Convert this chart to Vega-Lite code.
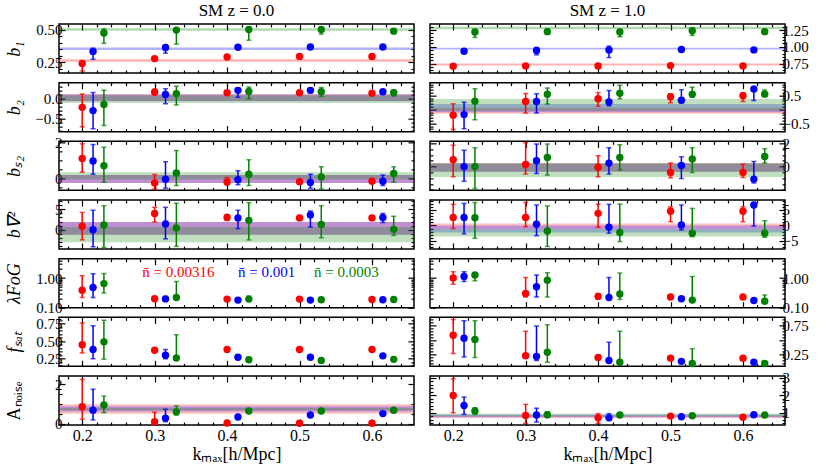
{
  "$schema": "https://vega.github.io/schema/vega-lite/v6.json",
  "padding": {"left": 4, "top": 1, "right": 4, "bottom": 2},
  "background": "white",
  "config": {
    "font": "Liberation Serif, Times New Roman, serif",
    "view": {"stroke": "black", "strokeWidth": 1.5},
    "axis": {
      "domain": false, "grid": false, "tickColor": "black", "tickSize": -6, "tickWidth": 1.2,
      "labelFont": "Liberation Serif, Times New Roman, serif", "titleFont": "Liberation Serif, Times New Roman, serif",
      "labelFontSize": 15, "labelColor": "black", "labelPadding": 3,
      "titleFontSize": 18, "titleFontWeight": "normal", "titleColor": "black", "titleFontStyle": "italic", "titlePadding": 2
    },
    "title": {"font": "Liberation Serif, Times New Roman, serif", "fontSize": 17, "fontWeight": "normal", "color": "black", "offset": 3},
    "text": {"font": "Liberation Serif, Times New Roman, serif"}
  },
  "datasets": {
    "bands": [
      {"p": "L1", "s": "0.00316", "lo": 0.253, "hi": 0.273},
      {"p": "L1", "s": "0.001", "lo": 0.344, "hi": 0.364},
      {"p": "L1", "s": "0.0003", "lo": 0.493, "hi": 0.513},
      {"p": "L2", "s": "0.00316", "lo": -0.06, "hi": 0.11},
      {"p": "L2", "s": "0.001", "lo": -0.07, "hi": 0.10},
      {"p": "L2", "s": "0.0003", "lo": -0.11, "hi": 0.08},
      {"p": "L3", "s": "0.00316", "lo": -0.25, "hi": 0.19},
      {"p": "L3", "s": "0.001", "lo": -0.25, "hi": 0.19},
      {"p": "L3", "s": "0.0003", "lo": -0.05, "hi": 0.35},
      {"p": "L4", "s": "0.00316", "lo": -1.25, "hi": 1.9},
      {"p": "L4", "s": "0.001", "lo": -1.25, "hi": 1.9},
      {"p": "L4", "s": "0.0003", "lo": -3.1, "hi": 0.65},
      {"p": "L7", "s": "0.00316", "lo": 0.5, "hi": 0.98},
      {"p": "L7", "s": "0.001", "lo": 0.62, "hi": 0.88},
      {"p": "L7", "s": "0.0003", "lo": 0.68, "hi": 0.8},
      {"p": "R1", "s": "0.00316", "lo": 0.722, "hi": 0.75},
      {"p": "R1", "s": "0.001", "lo": 0.959, "hi": 0.987},
      {"p": "R1", "s": "0.0003", "lo": 1.262, "hi": 1.298},
      {"p": "R2", "s": "0.00316", "lo": -0.15, "hi": 0.06},
      {"p": "R2", "s": "0.001", "lo": -0.1, "hi": 0.2},
      {"p": "R2", "s": "0.0003", "lo": -0.05, "hi": 0.38},
      {"p": "R3", "s": "0.00316", "lo": -0.45, "hi": 0.3},
      {"p": "R3", "s": "0.001", "lo": -0.45, "hi": 0.25},
      {"p": "R3", "s": "0.0003", "lo": -0.9, "hi": 0.3},
      {"p": "R4", "s": "0.00316", "lo": -1.2, "hi": 0.6},
      {"p": "R4", "s": "0.001", "lo": -2.3, "hi": 0.0},
      {"p": "R4", "s": "0.0003", "lo": -3.6, "hi": -1.2},
      {"p": "R7", "s": "0.00316", "lo": 0.7, "hi": 0.85},
      {"p": "R7", "s": "0.001", "lo": 0.75, "hi": 0.9},
      {"p": "R7", "s": "0.0003", "lo": 0.8, "hi": 0.95}
    ],
    "labels": [
      {"s": "0.00316", "k": 0.283, "v": 1.64, "t": "n̄ = 0.00316"},
      {"s": "0.001", "k": 0.415, "v": 1.64, "t": "n̄ = 0.001"},
      {"s": "0.0003", "k": 0.52, "v": 1.64, "t": "n̄ = 0.0003"}
    ],
    "pts": [
      {"p": "L1", "s": "0.00316", "k": 0.2, "v": 0.24, "lo": 0.182, "hi": 0.26},
      {"p": "L1", "s": "0.001", "k": 0.215, "v": 0.333, "lo": 0.273, "hi": 0.358},
      {"p": "L1", "s": "0.0003", "k": 0.23, "v": 0.475, "lo": 0.396, "hi": 0.508},
      {"p": "L1", "s": "0.00316", "k": 0.3, "v": 0.278, "lo": 0.27, "hi": 0.286},
      {"p": "L1", "s": "0.001", "k": 0.315, "v": 0.364, "lo": 0.32, "hi": 0.38},
      {"p": "L1", "s": "0.0003", "k": 0.33, "v": 0.498, "lo": 0.39, "hi": 0.515},
      {"p": "L1", "s": "0.00316", "k": 0.4, "v": 0.29, "lo": 0.283, "hi": 0.297},
      {"p": "L1", "s": "0.001", "k": 0.415, "v": 0.366, "lo": 0.355, "hi": 0.377},
      {"p": "L1", "s": "0.0003", "k": 0.43, "v": 0.502, "lo": 0.42, "hi": 0.52},
      {"p": "L1", "s": "0.00316", "k": 0.5, "v": 0.295, "lo": 0.289, "hi": 0.301},
      {"p": "L1", "s": "0.001", "k": 0.515, "v": 0.368, "lo": 0.359, "hi": 0.377},
      {"p": "L1", "s": "0.0003", "k": 0.53, "v": 0.502, "lo": 0.467, "hi": 0.515},
      {"p": "L1", "s": "0.00316", "k": 0.6, "v": 0.295, "lo": 0.289, "hi": 0.301},
      {"p": "L1", "s": "0.001", "k": 0.615, "v": 0.368, "lo": 0.359, "hi": 0.377},
      {"p": "L1", "s": "0.0003", "k": 0.63, "v": 0.49, "lo": 0.477, "hi": 0.502},

      {"p": "L2", "s": "0.00316", "k": 0.2, "v": -0.22, "lo": -0.7, "hi": 0.11},
      {"p": "L2", "s": "0.001", "k": 0.215, "v": -0.3, "lo": -0.75, "hi": 0.15},
      {"p": "L2", "s": "0.0003", "k": 0.23, "v": -0.15, "lo": -0.67, "hi": 0.2},
      {"p": "L2", "s": "0.00316", "k": 0.3, "v": 0.16, "lo": 0.09, "hi": 0.22},
      {"p": "L2", "s": "0.001", "k": 0.315, "v": 0.1, "lo": -0.13, "hi": 0.24},
      {"p": "L2", "s": "0.0003", "k": 0.33, "v": 0.12, "lo": -0.16, "hi": 0.3},
      {"p": "L2", "s": "0.00316", "k": 0.4, "v": 0.14, "lo": 0.11, "hi": 0.17},
      {"p": "L2", "s": "0.001", "k": 0.415, "v": 0.2, "lo": 0.03, "hi": 0.26},
      {"p": "L2", "s": "0.0003", "k": 0.43, "v": 0.17, "lo": -0.01, "hi": 0.28},
      {"p": "L2", "s": "0.00316", "k": 0.5, "v": 0.14, "lo": 0.11, "hi": 0.17},
      {"p": "L2", "s": "0.001", "k": 0.515, "v": 0.2, "lo": 0.14, "hi": 0.26},
      {"p": "L2", "s": "0.0003", "k": 0.53, "v": 0.165, "lo": 0.05, "hi": 0.27},
      {"p": "L2", "s": "0.00316", "k": 0.6, "v": 0.13, "lo": 0.1, "hi": 0.16},
      {"p": "L2", "s": "0.001", "k": 0.615, "v": 0.165, "lo": 0.12, "hi": 0.21},
      {"p": "L2", "s": "0.0003", "k": 0.63, "v": 0.14, "lo": 0.07, "hi": 0.21},

      {"p": "L3", "s": "0.00316", "k": 0.2, "v": 1.1, "lo": 0.35, "hi": 1.92},
      {"p": "L3", "s": "0.001", "k": 0.215, "v": 0.97, "lo": 0.24, "hi": 1.87},
      {"p": "L3", "s": "0.0003", "k": 0.23, "v": 0.71, "lo": -0.21, "hi": 1.72},
      {"p": "L3", "s": "0.00316", "k": 0.3, "v": -0.25, "lo": -0.58, "hi": 0.22},
      {"p": "L3", "s": "0.001", "k": 0.315, "v": -0.04, "lo": -0.54, "hi": 0.93},
      {"p": "L3", "s": "0.0003", "k": 0.33, "v": 0.31, "lo": -0.38, "hi": 1.55},
      {"p": "L3", "s": "0.00316", "k": 0.4, "v": -0.19, "lo": -0.34, "hi": 0.06},
      {"p": "L3", "s": "0.001", "k": 0.415, "v": -0.06, "lo": -0.34, "hi": 0.43},
      {"p": "L3", "s": "0.0003", "k": 0.43, "v": 0.24, "lo": -0.38, "hi": 1.03},
      {"p": "L3", "s": "0.00316", "k": 0.5, "v": -0.17, "lo": -0.29, "hi": -0.05},
      {"p": "L3", "s": "0.001", "k": 0.515, "v": -0.22, "lo": -0.53, "hi": 0.24},
      {"p": "L3", "s": "0.0003", "k": 0.53, "v": 0.09, "lo": -0.56, "hi": 0.65},
      {"p": "L3", "s": "0.00316", "k": 0.6, "v": -0.15, "lo": -0.23, "hi": -0.07},
      {"p": "L3", "s": "0.001", "k": 0.615, "v": -0.15, "lo": -0.39, "hi": 0.2},
      {"p": "L3", "s": "0.0003", "k": 0.63, "v": 0.28, "lo": -0.19, "hi": 0.65},

      {"p": "L4", "s": "0.00316", "k": 0.2, "v": 0.83, "lo": -2.5, "hi": 4.25},
      {"p": "L4", "s": "0.001", "k": 0.215, "v": 0.0, "lo": -4.2, "hi": 4.8},
      {"p": "L4", "s": "0.0003", "k": 0.23, "v": 1.15, "lo": -4.35, "hi": 5.9},
      {"p": "L4", "s": "0.00316", "k": 0.3, "v": 4.0, "lo": 1.9, "hi": 5.5},
      {"p": "L4", "s": "0.001", "k": 0.315, "v": 1.4, "lo": -2.25, "hi": 5.5},
      {"p": "L4", "s": "0.0003", "k": 0.33, "v": 0.4, "lo": -4.1, "hi": 6.5},
      {"p": "L4", "s": "0.00316", "k": 0.4, "v": 3.0, "lo": 2.3, "hi": 3.75},
      {"p": "L4", "s": "0.001", "k": 0.415, "v": 2.9, "lo": 0.25, "hi": 4.8},
      {"p": "L4", "s": "0.0003", "k": 0.43, "v": 2.3, "lo": -2.5, "hi": 6.65},
      {"p": "L4", "s": "0.00316", "k": 0.5, "v": 2.9, "lo": 2.3, "hi": 3.5},
      {"p": "L4", "s": "0.001", "k": 0.515, "v": 3.6, "lo": 0.65, "hi": 4.6},
      {"p": "L4", "s": "0.0003", "k": 0.53, "v": 1.3, "lo": -2.0, "hi": 5.9},
      {"p": "L4", "s": "0.00316", "k": 0.6, "v": 2.9, "lo": 2.4, "hi": 3.4},
      {"p": "L4", "s": "0.001", "k": 0.615, "v": 3.0, "lo": 1.75, "hi": 4.0},
      {"p": "L4", "s": "0.0003", "k": 0.63, "v": 0.08, "lo": -1.4, "hi": 3.3},

      {"p": "L5", "s": "0.00316", "k": 0.2, "v": 0.39, "lo": 0.22, "hi": 1.2},
      {"p": "L5", "s": "0.001", "k": 0.215, "v": 0.48, "lo": 0.22, "hi": 1.4},
      {"p": "L5", "s": "0.0003", "k": 0.23, "v": 0.65, "lo": 0.31, "hi": 1.43},
      {"p": "L5", "s": "0.00316", "k": 0.3, "v": 0.2, "lo": 0.18, "hi": 0.22},
      {"p": "L5", "s": "0.001", "k": 0.315, "v": 0.198, "lo": 0.165, "hi": 0.24},
      {"p": "L5", "s": "0.0003", "k": 0.33, "v": 0.22, "lo": 0.19, "hi": 0.77},
      {"p": "L5", "s": "0.00316", "k": 0.4, "v": 0.195, "lo": 0.18, "hi": 0.21},
      {"p": "L5", "s": "0.001", "k": 0.415, "v": 0.18, "lo": 0.17, "hi": 0.19},
      {"p": "L5", "s": "0.0003", "k": 0.43, "v": 0.195, "lo": 0.17, "hi": 0.25},
      {"p": "L5", "s": "0.00316", "k": 0.5, "v": 0.195, "lo": 0.185, "hi": 0.205},
      {"p": "L5", "s": "0.001", "k": 0.515, "v": 0.18, "lo": 0.17, "hi": 0.19},
      {"p": "L5", "s": "0.0003", "k": 0.53, "v": 0.185, "lo": 0.175, "hi": 0.195},
      {"p": "L5", "s": "0.00316", "k": 0.6, "v": 0.19, "lo": 0.18, "hi": 0.2},
      {"p": "L5", "s": "0.001", "k": 0.615, "v": 0.185, "lo": 0.175, "hi": 0.195},
      {"p": "L5", "s": "0.0003", "k": 0.63, "v": 0.19, "lo": 0.18, "hi": 0.2},

      {"p": "L6", "s": "0.00316", "k": 0.2, "v": 0.45, "lo": 0.33, "hi": 0.76},
      {"p": "L6", "s": "0.001", "k": 0.215, "v": 0.38, "lo": 0.25, "hi": 0.72},
      {"p": "L6", "s": "0.0003", "k": 0.23, "v": 0.49, "lo": 0.24, "hi": 0.8},
      {"p": "L6", "s": "0.00316", "k": 0.3, "v": 0.37, "lo": 0.36, "hi": 0.38},
      {"p": "L6", "s": "0.001", "k": 0.315, "v": 0.3, "lo": 0.25, "hi": 0.38},
      {"p": "L6", "s": "0.0003", "k": 0.33, "v": 0.26, "lo": 0.23, "hi": 0.59},
      {"p": "L6", "s": "0.00316", "k": 0.4, "v": 0.38, "lo": 0.37, "hi": 0.39},
      {"p": "L6", "s": "0.001", "k": 0.415, "v": 0.27, "lo": 0.26, "hi": 0.28},
      {"p": "L6", "s": "0.0003", "k": 0.43, "v": 0.235, "lo": 0.205, "hi": 0.265},
      {"p": "L6", "s": "0.00316", "k": 0.5, "v": 0.38, "lo": 0.37, "hi": 0.39},
      {"p": "L6", "s": "0.001", "k": 0.515, "v": 0.27, "lo": 0.26, "hi": 0.28},
      {"p": "L6", "s": "0.0003", "k": 0.53, "v": 0.225, "lo": 0.21, "hi": 0.24},
      {"p": "L6", "s": "0.00316", "k": 0.6, "v": 0.38, "lo": 0.37, "hi": 0.39},
      {"p": "L6", "s": "0.001", "k": 0.615, "v": 0.29, "lo": 0.28, "hi": 0.3},
      {"p": "L6", "s": "0.0003", "k": 0.63, "v": 0.24, "lo": 0.23, "hi": 0.25},

      {"p": "L7", "s": "0.00316", "k": 0.2, "v": 0.86, "lo": 0.22, "hi": 2.25},
      {"p": "L7", "s": "0.001", "k": 0.215, "v": 0.68, "lo": 0.19, "hi": 1.75},
      {"p": "L7", "s": "0.0003", "k": 0.23, "v": 0.95, "lo": 0.56, "hi": 1.4},
      {"p": "L7", "s": "0.00316", "k": 0.3, "v": 0.1, "lo": 0.0, "hi": 0.58},
      {"p": "L7", "s": "0.001", "k": 0.315, "v": 0.27, "lo": 0.1, "hi": 0.73},
      {"p": "L7", "s": "0.0003", "k": 0.33, "v": 0.6, "lo": 0.44, "hi": 0.9},
      {"p": "L7", "s": "0.00316", "k": 0.4, "v": 0.03, "lo": 0.0, "hi": 0.06},
      {"p": "L7", "s": "0.001", "k": 0.415, "v": 0.34, "lo": 0.3, "hi": 0.38},
      {"p": "L7", "s": "0.0003", "k": 0.43, "v": 0.64, "lo": 0.6, "hi": 0.68},
      {"p": "L7", "s": "0.00316", "k": 0.5, "v": 0.02, "lo": 0.0, "hi": 0.04},
      {"p": "L7", "s": "0.001", "k": 0.515, "v": 0.44, "lo": 0.4, "hi": 0.48},
      {"p": "L7", "s": "0.0003", "k": 0.53, "v": 0.64, "lo": 0.6, "hi": 0.68},
      {"p": "L7", "s": "0.00316", "k": 0.6, "v": 0.02, "lo": 0.0, "hi": 0.04},
      {"p": "L7", "s": "0.001", "k": 0.615, "v": 0.51, "lo": 0.47, "hi": 0.55},
      {"p": "L7", "s": "0.0003", "k": 0.63, "v": 0.68, "lo": 0.64, "hi": 0.72},

      {"p": "R1", "s": "0.00316", "k": 0.2, "v": 0.71, "lo": 0.69, "hi": 0.73},
      {"p": "R1", "s": "0.001", "k": 0.215, "v": 0.934, "lo": 0.905, "hi": 0.96},
      {"p": "R1", "s": "0.0003", "k": 0.23, "v": 1.22, "lo": 1.14, "hi": 1.26},
      {"p": "R1", "s": "0.00316", "k": 0.3, "v": 0.716, "lo": 0.69, "hi": 0.74},
      {"p": "R1", "s": "0.001", "k": 0.315, "v": 0.944, "lo": 0.88, "hi": 0.99},
      {"p": "R1", "s": "0.0003", "k": 0.33, "v": 1.226, "lo": 1.19, "hi": 1.27},
      {"p": "R1", "s": "0.00316", "k": 0.4, "v": 0.716, "lo": 0.69, "hi": 0.74},
      {"p": "R1", "s": "0.001", "k": 0.415, "v": 0.954, "lo": 0.84, "hi": 1.01},
      {"p": "R1", "s": "0.0003", "k": 0.43, "v": 1.22, "lo": 1.15, "hi": 1.26},
      {"p": "R1", "s": "0.00316", "k": 0.5, "v": 0.72, "lo": 0.7, "hi": 0.74},
      {"p": "R1", "s": "0.001", "k": 0.515, "v": 0.96, "lo": 0.94, "hi": 0.98},
      {"p": "R1", "s": "0.0003", "k": 0.53, "v": 1.24, "lo": 1.17, "hi": 1.28},
      {"p": "R1", "s": "0.00316", "k": 0.6, "v": 0.716, "lo": 0.7, "hi": 0.735},
      {"p": "R1", "s": "0.001", "k": 0.615, "v": 0.954, "lo": 0.935, "hi": 0.975},
      {"p": "R1", "s": "0.0003", "k": 0.63, "v": 1.226, "lo": 1.2, "hi": 1.255},

      {"p": "R2", "s": "0.00316", "k": 0.2, "v": -0.2, "lo": -0.71, "hi": 0.21},
      {"p": "R2", "s": "0.001", "k": 0.215, "v": -0.18, "lo": -0.69, "hi": 0.26},
      {"p": "R2", "s": "0.0003", "k": 0.23, "v": 0.3, "lo": -0.36, "hi": 0.74},
      {"p": "R2", "s": "0.00316", "k": 0.3, "v": 0.29, "lo": -0.12, "hi": 0.57},
      {"p": "R2", "s": "0.001", "k": 0.315, "v": 0.29, "lo": -0.12, "hi": 0.56},
      {"p": "R2", "s": "0.0003", "k": 0.33, "v": 0.55, "lo": 0.2, "hi": 0.77},
      {"p": "R2", "s": "0.00316", "k": 0.4, "v": 0.39, "lo": 0.12, "hi": 0.61},
      {"p": "R2", "s": "0.001", "k": 0.415, "v": 0.27, "lo": 0.14, "hi": 0.68},
      {"p": "R2", "s": "0.0003", "k": 0.43, "v": 0.58, "lo": 0.39, "hi": 0.87},
      {"p": "R2", "s": "0.00316", "k": 0.5, "v": 0.46, "lo": 0.24, "hi": 0.56},
      {"p": "R2", "s": "0.001", "k": 0.515, "v": 0.33, "lo": 0.24, "hi": 0.71},
      {"p": "R2", "s": "0.0003", "k": 0.53, "v": 0.55, "lo": 0.44, "hi": 0.8},
      {"p": "R2", "s": "0.00316", "k": 0.6, "v": 0.49, "lo": 0.29, "hi": 0.6},
      {"p": "R2", "s": "0.001", "k": 0.615, "v": 0.73, "lo": 0.32, "hi": 0.82},
      {"p": "R2", "s": "0.0003", "k": 0.63, "v": 0.55, "lo": 0.5, "hi": 0.7},

      {"p": "R3", "s": "0.00316", "k": 0.2, "v": 0.59, "lo": -0.88, "hi": 1.85},
      {"p": "R3", "s": "0.001", "k": 0.215, "v": 0.0, "lo": -1.26, "hi": 1.41},
      {"p": "R3", "s": "0.0003", "k": 0.23, "v": 0.0, "lo": -1.9, "hi": 1.62},
      {"p": "R3", "s": "0.00316", "k": 0.3, "v": 0.18, "lo": -0.64, "hi": 2.06},
      {"p": "R3", "s": "0.001", "k": 0.315, "v": 0.5, "lo": -0.59, "hi": 1.94},
      {"p": "R3", "s": "0.0003", "k": 0.33, "v": 0.79, "lo": -0.73, "hi": 1.94},
      {"p": "R3", "s": "0.00316", "k": 0.4, "v": -0.06, "lo": -0.88, "hi": 0.94},
      {"p": "R3", "s": "0.001", "k": 0.415, "v": 0.3, "lo": -0.64, "hi": 1.62},
      {"p": "R3", "s": "0.0003", "k": 0.43, "v": 0.79, "lo": -0.29, "hi": 1.88},
      {"p": "R3", "s": "0.00316", "k": 0.5, "v": -0.5, "lo": -0.97, "hi": 0.3},
      {"p": "R3", "s": "0.001", "k": 0.515, "v": 0.09, "lo": -1.03, "hi": 0.85},
      {"p": "R3", "s": "0.0003", "k": 0.53, "v": 0.65, "lo": -0.5, "hi": 1.62},
      {"p": "R3", "s": "0.00316", "k": 0.6, "v": -0.5, "lo": -0.94, "hi": 0.21},
      {"p": "R3", "s": "0.001", "k": 0.615, "v": -1.08, "lo": -1.41, "hi": 0.44},
      {"p": "R3", "s": "0.0003", "k": 0.63, "v": 0.88, "lo": 0.3, "hi": 1.53},

      {"p": "R4", "s": "0.00316", "k": 0.2, "v": 2.6, "lo": -1.0, "hi": 6.8},
      {"p": "R4", "s": "0.001", "k": 0.215, "v": 2.6, "lo": -2.7, "hi": 7.1},
      {"p": "R4", "s": "0.0003", "k": 0.23, "v": 2.5, "lo": -4.1, "hi": 7.4},
      {"p": "R4", "s": "0.00316", "k": 0.3, "v": 2.6, "lo": -0.4, "hi": 7.4},
      {"p": "R4", "s": "0.001", "k": 0.315, "v": 0.4, "lo": -3.3, "hi": 6.6},
      {"p": "R4", "s": "0.0003", "k": 0.33, "v": -1.8, "lo": -6.8, "hi": 6.3},
      {"p": "R4", "s": "0.00316", "k": 0.4, "v": 3.9, "lo": -0.6, "hi": 6.9},
      {"p": "R4", "s": "0.001", "k": 0.415, "v": -0.6, "lo": -2.5, "hi": 6.8},
      {"p": "R4", "s": "0.0003", "k": 0.43, "v": -2.3, "lo": -5.2, "hi": 6.9},
      {"p": "R4", "s": "0.00316", "k": 0.5, "v": 4.6, "lo": 1.2, "hi": 6.0},
      {"p": "R4", "s": "0.001", "k": 0.515, "v": 0.16, "lo": -1.45, "hi": 6.6},
      {"p": "R4", "s": "0.0003", "k": 0.53, "v": -2.5, "lo": -3.6, "hi": 5.5},
      {"p": "R4", "s": "0.00316", "k": 0.6, "v": 4.6, "lo": 1.2, "hi": 6.0},
      {"p": "R4", "s": "0.001", "k": 0.615, "v": 6.6, "lo": -0.16, "hi": 7.4},
      {"p": "R4", "s": "0.0003", "k": 0.63, "v": -2.5, "lo": -3.8, "hi": 1.5},

      {"p": "R5", "s": "0.00316", "k": 0.2, "v": 1.0, "lo": 0.62, "hi": 1.64},
      {"p": "R5", "s": "0.001", "k": 0.215, "v": 1.13, "lo": 0.77, "hi": 1.64},
      {"p": "R5", "s": "0.0003", "k": 0.23, "v": 1.26, "lo": 0.81, "hi": 1.5},
      {"p": "R5", "s": "0.00316", "k": 0.3, "v": 0.3, "lo": 0.23, "hi": 1.05},
      {"p": "R5", "s": "0.001", "k": 0.315, "v": 0.51, "lo": 0.23, "hi": 1.26},
      {"p": "R5", "s": "0.0003", "k": 0.33, "v": 0.85, "lo": 0.23, "hi": 1.5},
      {"p": "R5", "s": "0.00316", "k": 0.4, "v": 0.24, "lo": 0.2, "hi": 0.3},
      {"p": "R5", "s": "0.001", "k": 0.415, "v": 0.22, "lo": 0.19, "hi": 1.05},
      {"p": "R5", "s": "0.0003", "k": 0.43, "v": 0.29, "lo": 0.19, "hi": 1.48},
      {"p": "R5", "s": "0.00316", "k": 0.5, "v": 0.23, "lo": 0.21, "hi": 0.25},
      {"p": "R5", "s": "0.001", "k": 0.515, "v": 0.2, "lo": 0.185, "hi": 0.215},
      {"p": "R5", "s": "0.0003", "k": 0.53, "v": 0.18, "lo": 0.16, "hi": 1.13},
      {"p": "R5", "s": "0.00316", "k": 0.6, "v": 0.23, "lo": 0.21, "hi": 0.25},
      {"p": "R5", "s": "0.001", "k": 0.615, "v": 0.175, "lo": 0.16, "hi": 0.19},
      {"p": "R5", "s": "0.0003", "k": 0.63, "v": 0.165, "lo": 0.145, "hi": 0.27},

      {"p": "R6", "s": "0.00316", "k": 0.2, "v": 0.58, "lo": 0.27, "hi": 0.85},
      {"p": "R6", "s": "0.001", "k": 0.215, "v": 0.53, "lo": 0.21, "hi": 0.83},
      {"p": "R6", "s": "0.0003", "k": 0.23, "v": 0.51, "lo": 0.2, "hi": 0.83},
      {"p": "R6", "s": "0.00316", "k": 0.3, "v": 0.23, "lo": 0.2, "hi": 0.65},
      {"p": "R6", "s": "0.001", "k": 0.315, "v": 0.22, "lo": 0.15, "hi": 0.74},
      {"p": "R6", "s": "0.0003", "k": 0.33, "v": 0.29, "lo": 0.12, "hi": 0.76},
      {"p": "R6", "s": "0.00316", "k": 0.4, "v": 0.2, "lo": 0.18, "hi": 0.22},
      {"p": "R6", "s": "0.001", "k": 0.415, "v": 0.15, "lo": 0.13, "hi": 0.46},
      {"p": "R6", "s": "0.0003", "k": 0.43, "v": 0.12, "lo": 0.1, "hi": 0.65},
      {"p": "R6", "s": "0.00316", "k": 0.5, "v": 0.19, "lo": 0.17, "hi": 0.21},
      {"p": "R6", "s": "0.001", "k": 0.515, "v": 0.135, "lo": 0.12, "hi": 0.15},
      {"p": "R6", "s": "0.0003", "k": 0.53, "v": 0.1, "lo": 0.09, "hi": 0.35},
      {"p": "R6", "s": "0.00316", "k": 0.6, "v": 0.19, "lo": 0.17, "hi": 0.21},
      {"p": "R6", "s": "0.001", "k": 0.615, "v": 0.12, "lo": 0.11, "hi": 0.13},
      {"p": "R6", "s": "0.0003", "k": 0.63, "v": 0.1, "lo": 0.09, "hi": 0.11},

      {"p": "R7", "s": "0.00316", "k": 0.2, "v": 1.99, "lo": 1.0, "hi": 2.94},
      {"p": "R7", "s": "0.001", "k": 0.215, "v": 1.42, "lo": 0.91, "hi": 1.9},
      {"p": "R7", "s": "0.0003", "k": 0.23, "v": 1.1, "lo": 0.91, "hi": 1.29},
      {"p": "R7", "s": "0.00316", "k": 0.3, "v": 0.85, "lo": 0.4, "hi": 1.48},
      {"p": "R7", "s": "0.001", "k": 0.315, "v": 0.87, "lo": 0.47, "hi": 1.26},
      {"p": "R7", "s": "0.0003", "k": 0.33, "v": 0.89, "lo": 0.73, "hi": 1.05},
      {"p": "R7", "s": "0.00316", "k": 0.4, "v": 0.71, "lo": 0.4, "hi": 0.95},
      {"p": "R7", "s": "0.001", "k": 0.415, "v": 0.71, "lo": 0.59, "hi": 0.95},
      {"p": "R7", "s": "0.0003", "k": 0.43, "v": 0.87, "lo": 0.77, "hi": 0.97},
      {"p": "R7", "s": "0.00316", "k": 0.5, "v": 0.81, "lo": 0.75, "hi": 0.87},
      {"p": "R7", "s": "0.001", "k": 0.515, "v": 0.77, "lo": 0.7, "hi": 0.84},
      {"p": "R7", "s": "0.0003", "k": 0.53, "v": 0.83, "lo": 0.76, "hi": 0.9},
      {"p": "R7", "s": "0.00316", "k": 0.6, "v": 0.75, "lo": 0.69, "hi": 0.81},
      {"p": "R7", "s": "0.001", "k": 0.615, "v": 0.89, "lo": 0.83, "hi": 0.95},
      {"p": "R7", "s": "0.0003", "k": 0.63, "v": 0.87, "lo": 0.8, "hi": 0.94}
    ]
  },
  "spacing": 12,
  "hconcat": [
    {
      "bounds": "flush",
      "spacing": 9.67,
      "vconcat": [
        {"width": 355, "height": 49, "title": "SM z = 0.0", "resolve": {"axis": {"x": "independent", "y": "independent"}}, "layer": [
          {"data": {"name": "bands"}, "transform": [{"filter": "datum.p == 'L1'"}], "mark": {"type": "rect", "opacity": 0.3}, "encoding": {"y": {"field": "lo", "type": "quantitative", "axis": null}, "y2": {"field": "hi"}, "color": {"field": "s", "type": "nominal", "scale": {"domain": ["0.00316", "0.001", "0.0003"], "range": ["#ff0000", "#0000ff", "#008000"]}, "legend": null}}},
          {"data": {"name": "pts"}, "transform": [{"filter": "datum.p == 'L1'"}], "mark": {"type": "point", "opacity": 0}, "encoding": {"x": {"field": "k", "type": "quantitative", "axis": {"values": [0.18,0.22,0.24,0.26,0.28,0.32,0.34,0.36,0.38,0.42,0.44,0.46,0.48,0.52,0.54,0.56,0.58,0.62,0.64], "labels": false, "title": null, "tickSize": -3, "maxExtent": 0}}, "y": {"field": "v", "type": "quantitative", "axis": {"values": [0.2,0.3,0.35,0.4,0.45], "labels": false, "title": null, "tickSize": -3, "maxExtent": 0}}}},
          {"data": {"name": "pts"}, "transform": [{"filter": "datum.p == 'L1'"}], "mark": {"type": "point", "opacity": 0}, "encoding": {"x": {"field": "k", "type": "quantitative", "axis": {"orient": "top", "values": [0.18,0.22,0.24,0.26,0.28,0.32,0.34,0.36,0.38,0.42,0.44,0.46,0.48,0.52,0.54,0.56,0.58,0.62,0.64], "labels": false, "title": null, "tickSize": -3, "maxExtent": 0}}, "y": {"field": "v", "type": "quantitative", "axis": {"orient": "right", "values": [0.2,0.3,0.35,0.4,0.45], "labels": false, "title": null, "tickSize": -3, "maxExtent": 0}}}},
          {"data": {"name": "pts"}, "transform": [{"filter": "datum.p == 'L1'"}], "mark": {"type": "errorbar", "ticks": true, "thickness": 1.5, "clip": true}, "encoding": {"x": {"field": "k", "type": "quantitative", "axis": {"orient": "top", "values": [0.2, 0.3, 0.4, 0.5, 0.6], "labels": false, "title": null, "maxExtent": 0}}, "y": {"field": "lo", "type": "quantitative", "axis": {"orient": "right", "values": [0.25, 0.5], "labels": false, "title": null, "maxExtent": 0}}, "y2": {"field": "hi"}, "color": {"field": "s", "type": "nominal", "legend": null}}},
          {"data": {"name": "pts"}, "transform": [{"filter": "datum.p == 'L1'"}], "mark": {"type": "point", "filled": true, "size": 55, "opacity": 1}, "encoding": {"x": {"field": "k", "type": "quantitative", "scale": {"domain": [0.168, 0.658], "nice": false, "zero": false}, "axis": {"values": [0.2, 0.3, 0.4, 0.5, 0.6], "labels": false, "title": null, "maxExtent": 0}}, "y": {"field": "v", "type": "quantitative", "scale": {"domain": [0.167, 0.545], "nice": false, "zero": false}, "axis": {"values": [0.25, 0.5], "format": ".2f", "title": "b₁", "minExtent": 34, "maxExtent": 34}}, "color": {"field": "s", "type": "nominal", "legend": null}}}
        ]},
        {"width": 355, "height": 49, "resolve": {"axis": {"x": "independent", "y": "independent"}}, "layer": [
          {"data": {"name": "bands"}, "transform": [{"filter": "datum.p == 'L2'"}], "mark": {"type": "rect", "opacity": 0.25}, "encoding": {"y": {"field": "lo", "type": "quantitative", "axis": null}, "y2": {"field": "hi"}, "color": {"field": "s", "type": "nominal", "scale": {"domain": ["0.00316", "0.001", "0.0003"], "range": ["#ff0000", "#0000ff", "#008000"]}, "legend": null}}},
          {"data": {"name": "pts"}, "transform": [{"filter": "datum.p == 'L2'"}], "mark": {"type": "point", "opacity": 0}, "encoding": {"x": {"field": "k", "type": "quantitative", "axis": {"values": [0.18,0.22,0.24,0.26,0.28,0.32,0.34,0.36,0.38,0.42,0.44,0.46,0.48,0.52,0.54,0.56,0.58,0.62,0.64], "labels": false, "title": null, "tickSize": -3, "maxExtent": 0}}, "y": {"field": "v", "type": "quantitative", "axis": {"values": [-0.8,-0.7,-0.6,-0.4,-0.3,-0.2,-0.1,0.1,0.2,0.3], "labels": false, "title": null, "tickSize": -3, "maxExtent": 0}}}},
          {"data": {"name": "pts"}, "transform": [{"filter": "datum.p == 'L2'"}], "mark": {"type": "point", "opacity": 0}, "encoding": {"x": {"field": "k", "type": "quantitative", "axis": {"orient": "top", "values": [0.18,0.22,0.24,0.26,0.28,0.32,0.34,0.36,0.38,0.42,0.44,0.46,0.48,0.52,0.54,0.56,0.58,0.62,0.64], "labels": false, "title": null, "tickSize": -3, "maxExtent": 0}}, "y": {"field": "v", "type": "quantitative", "axis": {"orient": "right", "values": [-0.8,-0.7,-0.6,-0.4,-0.3,-0.2,-0.1,0.1,0.2,0.3], "labels": false, "title": null, "tickSize": -3, "maxExtent": 0}}}},
          {"data": {"name": "pts"}, "transform": [{"filter": "datum.p == 'L2'"}], "mark": {"type": "errorbar", "ticks": true, "thickness": 1.5, "clip": true}, "encoding": {"x": {"field": "k", "type": "quantitative", "axis": {"orient": "top", "values": [0.2, 0.3, 0.4, 0.5, 0.6], "labels": false, "title": null, "maxExtent": 0}}, "y": {"field": "lo", "type": "quantitative", "axis": {"orient": "right", "values": [-0.5, 0], "labels": false, "title": null, "maxExtent": 0}}, "y2": {"field": "hi"}, "color": {"field": "s", "type": "nominal", "legend": null}}},
          {"data": {"name": "pts"}, "transform": [{"filter": "datum.p == 'L2'"}], "mark": {"type": "point", "filled": true, "size": 55, "opacity": 1}, "encoding": {"x": {"field": "k", "type": "quantitative", "scale": {"domain": [0.168, 0.658], "nice": false, "zero": false}, "axis": {"values": [0.2, 0.3, 0.4, 0.5, 0.6], "labels": false, "title": null, "maxExtent": 0}}, "y": {"field": "v", "type": "quantitative", "scale": {"domain": [-0.82, 0.39], "nice": false, "zero": false}, "axis": {"values": [-0.5, 0], "format": ".1f", "title": "b₂", "minExtent": 34, "maxExtent": 34}}, "color": {"field": "s", "type": "nominal", "legend": null}}}
        ]},
        {"width": 355, "height": 49, "resolve": {"axis": {"x": "independent", "y": "independent"}}, "layer": [
          {"data": {"name": "bands"}, "transform": [{"filter": "datum.p == 'L3'"}], "mark": {"type": "rect", "opacity": 0.25}, "encoding": {"y": {"field": "lo", "type": "quantitative", "axis": null}, "y2": {"field": "hi"}, "color": {"field": "s", "type": "nominal", "scale": {"domain": ["0.00316", "0.001", "0.0003"], "range": ["#ff0000", "#0000ff", "#008000"]}, "legend": null}}},
          {"data": {"name": "pts"}, "transform": [{"filter": "datum.p == 'L3'"}], "mark": {"type": "point", "opacity": 0}, "encoding": {"x": {"field": "k", "type": "quantitative", "axis": {"values": [0.18,0.22,0.24,0.26,0.28,0.32,0.34,0.36,0.38,0.42,0.44,0.46,0.48,0.52,0.54,0.56,0.58,0.62,0.64], "labels": false, "title": null, "tickSize": -3, "maxExtent": 0}}, "y": {"field": "v", "type": "quantitative", "axis": {"values": [-0.5,0.5,1,1.5], "labels": false, "title": null, "tickSize": -3, "maxExtent": 0}}}},
          {"data": {"name": "pts"}, "transform": [{"filter": "datum.p == 'L3'"}], "mark": {"type": "point", "opacity": 0}, "encoding": {"x": {"field": "k", "type": "quantitative", "axis": {"orient": "top", "values": [0.18,0.22,0.24,0.26,0.28,0.32,0.34,0.36,0.38,0.42,0.44,0.46,0.48,0.52,0.54,0.56,0.58,0.62,0.64], "labels": false, "title": null, "tickSize": -3, "maxExtent": 0}}, "y": {"field": "v", "type": "quantitative", "axis": {"orient": "right", "values": [-0.5,0.5,1,1.5], "labels": false, "title": null, "tickSize": -3, "maxExtent": 0}}}},
          {"data": {"name": "pts"}, "transform": [{"filter": "datum.p == 'L3'"}], "mark": {"type": "errorbar", "ticks": true, "thickness": 1.5, "clip": true}, "encoding": {"x": {"field": "k", "type": "quantitative", "axis": {"orient": "top", "values": [0.2, 0.3, 0.4, 0.5, 0.6], "labels": false, "title": null, "maxExtent": 0}}, "y": {"field": "lo", "type": "quantitative", "axis": {"orient": "right", "values": [0, 2], "labels": false, "title": null, "maxExtent": 0}}, "y2": {"field": "hi"}, "color": {"field": "s", "type": "nominal", "legend": null}}},
          {"data": {"name": "pts"}, "transform": [{"filter": "datum.p == 'L3'"}], "mark": {"type": "point", "filled": true, "size": 55, "opacity": 1}, "encoding": {"x": {"field": "k", "type": "quantitative", "scale": {"domain": [0.168, 0.658], "nice": false, "zero": false}, "axis": {"values": [0.2, 0.3, 0.4, 0.5, 0.6], "labels": false, "title": null, "maxExtent": 0}}, "y": {"field": "v", "type": "quantitative", "scale": {"domain": [-0.65, 2.05], "nice": false, "zero": false}, "axis": {"values": [0, 2], "format": "d", "title": "bₛ₂", "minExtent": 34, "maxExtent": 34}}, "color": {"field": "s", "type": "nominal", "legend": null}}}
        ]},
        {"width": 355, "height": 49, "resolve": {"axis": {"x": "independent", "y": "independent"}}, "layer": [
          {"data": {"name": "bands"}, "transform": [{"filter": "datum.p == 'L4'"}], "mark": {"type": "rect", "opacity": 0.25}, "encoding": {"y": {"field": "lo", "type": "quantitative", "axis": null}, "y2": {"field": "hi"}, "color": {"field": "s", "type": "nominal", "scale": {"domain": ["0.00316", "0.001", "0.0003"], "range": ["#ff0000", "#0000ff", "#008000"]}, "legend": null}}},
          {"data": {"name": "pts"}, "transform": [{"filter": "datum.p == 'L4'"}], "mark": {"type": "point", "opacity": 0}, "encoding": {"x": {"field": "k", "type": "quantitative", "axis": {"values": [0.18,0.22,0.24,0.26,0.28,0.32,0.34,0.36,0.38,0.42,0.44,0.46,0.48,0.52,0.54,0.56,0.58,0.62,0.64], "labels": false, "title": null, "tickSize": -3, "maxExtent": 0}}, "y": {"field": "v", "type": "quantitative", "axis": {"values": [-4,-3,-2,-1,1,2,3,4,6,7], "labels": false, "title": null, "tickSize": -3, "maxExtent": 0}}}},
          {"data": {"name": "pts"}, "transform": [{"filter": "datum.p == 'L4'"}], "mark": {"type": "point", "opacity": 0}, "encoding": {"x": {"field": "k", "type": "quantitative", "axis": {"orient": "top", "values": [0.18,0.22,0.24,0.26,0.28,0.32,0.34,0.36,0.38,0.42,0.44,0.46,0.48,0.52,0.54,0.56,0.58,0.62,0.64], "labels": false, "title": null, "tickSize": -3, "maxExtent": 0}}, "y": {"field": "v", "type": "quantitative", "axis": {"orient": "right", "values": [-4,-3,-2,-1,1,2,3,4,6,7], "labels": false, "title": null, "tickSize": -3, "maxExtent": 0}}}},
          {"data": {"name": "pts"}, "transform": [{"filter": "datum.p == 'L4'"}], "mark": {"type": "errorbar", "ticks": true, "thickness": 1.5, "clip": true}, "encoding": {"x": {"field": "k", "type": "quantitative", "axis": {"orient": "top", "values": [0.2, 0.3, 0.4, 0.5, 0.6], "labels": false, "title": null, "maxExtent": 0}}, "y": {"field": "lo", "type": "quantitative", "axis": {"orient": "right", "values": [0, 5], "labels": false, "title": null, "maxExtent": 0}}, "y2": {"field": "hi"}, "color": {"field": "s", "type": "nominal", "legend": null}}},
          {"data": {"name": "pts"}, "transform": [{"filter": "datum.p == 'L4'"}], "mark": {"type": "point", "filled": true, "size": 55, "opacity": 1}, "encoding": {"x": {"field": "k", "type": "quantitative", "scale": {"domain": [0.168, 0.658], "nice": false, "zero": false}, "axis": {"values": [0.2, 0.3, 0.4, 0.5, 0.6], "labels": false, "title": null, "maxExtent": 0}}, "y": {"field": "v", "type": "quantitative", "scale": {"domain": [-4.75, 7.3], "nice": false, "zero": false}, "axis": {"values": [0, 5], "format": "d", "title": "b∇²", "minExtent": 34, "maxExtent": 34}}, "color": {"field": "s", "type": "nominal", "legend": null}}}
        ]},
        {"width": 355, "height": 49, "resolve": {"axis": {"x": "independent", "y": "independent"}}, "layer": [
          {"data": {"name": "pts"}, "transform": [{"filter": "datum.p == 'L5'"}], "mark": {"type": "point", "opacity": 0}, "encoding": {"x": {"field": "k", "type": "quantitative", "axis": {"values": [0.18,0.22,0.24,0.26,0.28,0.32,0.34,0.36,0.38,0.42,0.44,0.46,0.48,0.52,0.54,0.56,0.58,0.62,0.64], "labels": false, "title": null, "tickSize": -3, "maxExtent": 0}}, "y": {"field": "v", "type": "quantitative", "axis": {"values": [0.2,0.3,0.4,0.5,0.6,0.7,0.8,0.9,2,3,4], "labels": false, "title": null, "tickSize": -3, "maxExtent": 0}}, "color": {"field": "s", "type": "nominal", "scale": {"domain": ["0.00316", "0.001", "0.0003"], "range": ["#ff0000", "#0000ff", "#008000"]}, "legend": null}}},
          {"data": {"name": "pts"}, "transform": [{"filter": "datum.p == 'L5'"}], "mark": {"type": "point", "opacity": 0}, "encoding": {"x": {"field": "k", "type": "quantitative", "axis": {"orient": "top", "values": [0.18,0.22,0.24,0.26,0.28,0.32,0.34,0.36,0.38,0.42,0.44,0.46,0.48,0.52,0.54,0.56,0.58,0.62,0.64], "labels": false, "title": null, "tickSize": -3, "maxExtent": 0}}, "y": {"field": "v", "type": "quantitative", "axis": {"orient": "right", "values": [0.2,0.3,0.4,0.5,0.6,0.7,0.8,0.9,2,3,4], "labels": false, "title": null, "tickSize": -3, "maxExtent": 0}}}},
          {"data": {"name": "pts"}, "transform": [{"filter": "datum.p == 'L5'"}], "mark": {"type": "errorbar", "ticks": true, "thickness": 1.5, "clip": true}, "encoding": {"x": {"field": "k", "type": "quantitative", "axis": {"orient": "top", "values": [0.2, 0.3, 0.4, 0.5, 0.6], "labels": false, "title": null, "maxExtent": 0}}, "y": {"field": "lo", "type": "quantitative", "axis": {"orient": "right", "values": [0.1, 1], "labels": false, "title": null, "maxExtent": 0}}, "y2": {"field": "hi"}, "color": {"field": "s", "type": "nominal", "legend": null}}},
          {"data": {"name": "pts"}, "transform": [{"filter": "datum.p == 'L5'"}], "mark": {"type": "point", "filled": true, "size": 55, "opacity": 1}, "encoding": {"x": {"field": "k", "type": "quantitative", "scale": {"domain": [0.168, 0.658], "nice": false, "zero": false}, "axis": {"values": [0.2, 0.3, 0.4, 0.5, 0.6], "labels": false, "title": null, "maxExtent": 0}}, "y": {"field": "v", "type": "quantitative", "scale": {"type": "log", "domain": [0.1, 4.5], "nice": false}, "axis": {"values": [0.1, 1], "format": ".2f", "title": "λFoG", "minExtent": 34, "maxExtent": 34}}, "color": {"field": "s", "type": "nominal", "legend": null}}},
          {"data": {"name": "labels"}, "mark": {"type": "text", "align": "left", "baseline": "middle", "fontSize": 15}, "encoding": {"x": {"field": "k", "type": "quantitative", "axis": null}, "y": {"field": "v", "type": "quantitative", "axis": null}, "text": {"field": "t"}, "color": {"field": "s", "type": "nominal", "legend": null}}}
        ]},
        {"width": 355, "height": 49, "resolve": {"axis": {"x": "independent", "y": "independent"}}, "layer": [
          {"data": {"name": "pts"}, "transform": [{"filter": "datum.p == 'L6'"}], "mark": {"type": "point", "opacity": 0}, "encoding": {"x": {"field": "k", "type": "quantitative", "axis": {"values": [0.18,0.22,0.24,0.26,0.28,0.32,0.34,0.36,0.38,0.42,0.44,0.46,0.48,0.52,0.54,0.56,0.58,0.62,0.64], "labels": false, "title": null, "tickSize": -3, "maxExtent": 0}}, "y": {"field": "v", "type": "quantitative", "axis": {"values": [0.15,0.2,0.3,0.35,0.4,0.45,0.55,0.6,0.65,0.7,0.8], "labels": false, "title": null, "tickSize": -3, "maxExtent": 0}}, "color": {"field": "s", "type": "nominal", "scale": {"domain": ["0.00316", "0.001", "0.0003"], "range": ["#ff0000", "#0000ff", "#008000"]}, "legend": null}}},
          {"data": {"name": "pts"}, "transform": [{"filter": "datum.p == 'L6'"}], "mark": {"type": "point", "opacity": 0}, "encoding": {"x": {"field": "k", "type": "quantitative", "axis": {"orient": "top", "values": [0.18,0.22,0.24,0.26,0.28,0.32,0.34,0.36,0.38,0.42,0.44,0.46,0.48,0.52,0.54,0.56,0.58,0.62,0.64], "labels": false, "title": null, "tickSize": -3, "maxExtent": 0}}, "y": {"field": "v", "type": "quantitative", "axis": {"orient": "right", "values": [0.15,0.2,0.3,0.35,0.4,0.45,0.55,0.6,0.65,0.7,0.8], "labels": false, "title": null, "tickSize": -3, "maxExtent": 0}}}},
          {"data": {"name": "pts"}, "transform": [{"filter": "datum.p == 'L6'"}], "mark": {"type": "errorbar", "ticks": true, "thickness": 1.5, "clip": true}, "encoding": {"x": {"field": "k", "type": "quantitative", "axis": {"orient": "top", "values": [0.2, 0.3, 0.4, 0.5, 0.6], "labels": false, "title": null, "maxExtent": 0}}, "y": {"field": "lo", "type": "quantitative", "axis": {"orient": "right", "values": [0.25, 0.5, 0.75], "labels": false, "title": null, "maxExtent": 0}}, "y2": {"field": "hi"}, "color": {"field": "s", "type": "nominal", "legend": null}}},
          {"data": {"name": "pts"}, "transform": [{"filter": "datum.p == 'L6'"}], "mark": {"type": "point", "filled": true, "size": 55, "opacity": 1}, "encoding": {"x": {"field": "k", "type": "quantitative", "scale": {"domain": [0.168, 0.658], "nice": false, "zero": false}, "axis": {"values": [0.2, 0.3, 0.4, 0.5, 0.6], "labels": false, "title": null, "maxExtent": 0}}, "y": {"field": "v", "type": "quantitative", "scale": {"domain": [0.14, 0.84], "nice": false, "zero": false}, "axis": {"values": [0.25, 0.5, 0.75], "format": ".2f", "title": "fₛₐₜ", "minExtent": 34, "maxExtent": 34}}, "color": {"field": "s", "type": "nominal", "legend": null}}}
        ]},
        {"width": 355, "height": 49, "resolve": {"axis": {"x": "independent", "y": "independent"}}, "layer": [
          {"data": {"name": "bands"}, "transform": [{"filter": "datum.p == 'L7'"}], "mark": {"type": "rect", "opacity": 0.25}, "encoding": {"y": {"field": "lo", "type": "quantitative", "axis": null}, "y2": {"field": "hi"}, "color": {"field": "s", "type": "nominal", "scale": {"domain": ["0.00316", "0.001", "0.0003"], "range": ["#ff0000", "#0000ff", "#008000"]}, "legend": null}}},
          {"data": {"name": "pts"}, "transform": [{"filter": "datum.p == 'L7'"}], "mark": {"type": "point", "opacity": 0}, "encoding": {"x": {"field": "k", "type": "quantitative", "axis": {"values": [0.18,0.22,0.24,0.26,0.28,0.32,0.34,0.36,0.38,0.42,0.44,0.46,0.48,0.52,0.54,0.56,0.58,0.62,0.64], "labels": false, "title": null, "tickSize": -3, "maxExtent": 0}}, "y": {"field": "v", "type": "quantitative", "axis": {"values": [0.5,1,1.5], "labels": false, "title": null, "tickSize": -3, "maxExtent": 0}}}},
          {"data": {"name": "pts"}, "transform": [{"filter": "datum.p == 'L7'"}], "mark": {"type": "point", "opacity": 0}, "encoding": {"x": {"field": "k", "type": "quantitative", "axis": {"orient": "top", "values": [0.18,0.22,0.24,0.26,0.28,0.32,0.34,0.36,0.38,0.42,0.44,0.46,0.48,0.52,0.54,0.56,0.58,0.62,0.64], "labels": false, "title": null, "tickSize": -3, "maxExtent": 0}}, "y": {"field": "v", "type": "quantitative", "axis": {"orient": "right", "values": [0.5,1,1.5], "labels": false, "title": null, "tickSize": -3, "maxExtent": 0}}}},
          {"data": {"name": "pts"}, "transform": [{"filter": "datum.p == 'L7'"}], "mark": {"type": "errorbar", "ticks": true, "thickness": 1.5, "clip": true}, "encoding": {"x": {"field": "k", "type": "quantitative", "axis": {"orient": "top", "values": [0.2, 0.3, 0.4, 0.5, 0.6], "labels": false, "title": null, "maxExtent": 0}}, "y": {"field": "lo", "type": "quantitative", "axis": {"orient": "right", "values": [0, 2], "labels": false, "title": null, "maxExtent": 0}}, "y2": {"field": "hi"}, "color": {"field": "s", "type": "nominal", "legend": null}}},
          {"data": {"name": "pts"}, "transform": [{"filter": "datum.p == 'L7'"}], "mark": {"type": "point", "filled": true, "size": 55, "opacity": 1}, "encoding": {"x": {"field": "k", "type": "quantitative", "scale": {"domain": [0.168, 0.658], "nice": false, "zero": false}, "axis": {"values": [0.2, 0.3, 0.4, 0.5, 0.6], "format": ".1f", "title": "kₘₐₓ[h/Mpc]", "titleFontStyle": "normal", "labelFontSize": 16, "labelPadding": 8}}, "y": {"field": "v", "type": "quantitative", "scale": {"domain": [-0.07, 2.42], "nice": false, "zero": false}, "axis": {"values": [0, 2], "format": "d", "title": "Aₙₒᵢₛₑ", "titleFontStyle": "normal", "minExtent": 34, "maxExtent": 34}}, "color": {"field": "s", "type": "nominal", "legend": null}}}
        ]}
      ]
    },
    {
      "bounds": "flush",
      "spacing": 9.67,
      "vconcat": [
        {"width": 355, "height": 49, "title": "SM z = 1.0", "resolve": {"axis": {"x": "independent", "y": "independent"}}, "layer": [
          {"data": {"name": "bands"}, "transform": [{"filter": "datum.p == 'R1'"}], "mark": {"type": "rect", "opacity": 0.3}, "encoding": {"y": {"field": "lo", "type": "quantitative", "axis": null}, "y2": {"field": "hi"}, "color": {"field": "s", "type": "nominal", "scale": {"domain": ["0.00316", "0.001", "0.0003"], "range": ["#ff0000", "#0000ff", "#008000"]}, "legend": null}}},
          {"data": {"name": "pts"}, "transform": [{"filter": "datum.p == 'R1'"}], "mark": {"type": "point", "opacity": 0}, "encoding": {"x": {"field": "k", "type": "quantitative", "axis": {"values": [0.18,0.22,0.24,0.26,0.28,0.32,0.34,0.36,0.38,0.42,0.44,0.46,0.48,0.52,0.54,0.56,0.58,0.62,0.64], "labels": false, "title": null, "tickSize": -3, "maxExtent": 0}}, "y": {"field": "v", "type": "quantitative", "axis": {"orient": "right", "values": [0.65,0.7,0.8,0.85,0.9,0.95,1.05,1.1,1.15,1.2,1.3], "labels": false, "title": null, "tickSize": -3, "maxExtent": 0}}}},
          {"data": {"name": "pts"}, "transform": [{"filter": "datum.p == 'R1'"}], "mark": {"type": "point", "opacity": 0}, "encoding": {"x": {"field": "k", "type": "quantitative", "axis": {"orient": "top", "values": [0.18,0.22,0.24,0.26,0.28,0.32,0.34,0.36,0.38,0.42,0.44,0.46,0.48,0.52,0.54,0.56,0.58,0.62,0.64], "labels": false, "title": null, "tickSize": -3, "maxExtent": 0}}, "y": {"field": "v", "type": "quantitative", "axis": {"orient": "left", "values": [0.65,0.7,0.8,0.85,0.9,0.95,1.05,1.1,1.15,1.2,1.3], "labels": false, "title": null, "tickSize": -3, "maxExtent": 0}}}},
          {"data": {"name": "pts"}, "transform": [{"filter": "datum.p == 'R1'"}], "mark": {"type": "errorbar", "ticks": true, "thickness": 1.5, "clip": true}, "encoding": {"x": {"field": "k", "type": "quantitative", "axis": {"orient": "top", "values": [0.2, 0.3, 0.4, 0.5, 0.6], "labels": false, "title": null, "maxExtent": 0}}, "y": {"field": "lo", "type": "quantitative", "axis": {"orient": "left", "values": [0.75, 1, 1.25], "labels": false, "title": null, "maxExtent": 0}}, "y2": {"field": "hi"}, "color": {"field": "s", "type": "nominal", "legend": null}}},
          {"data": {"name": "pts"}, "transform": [{"filter": "datum.p == 'R1'"}], "mark": {"type": "point", "filled": true, "size": 55, "opacity": 1}, "encoding": {"x": {"field": "k", "type": "quantitative", "scale": {"domain": [0.168, 0.658], "nice": false, "zero": false}, "axis": {"values": [0.2, 0.3, 0.4, 0.5, 0.6], "labels": false, "title": null, "maxExtent": 0}}, "y": {"field": "v", "type": "quantitative", "scale": {"domain": [0.61, 1.34], "nice": false, "zero": false}, "axis": {"orient": "right", "values": [0.75, 1, 1.25], "format": ".2f", "title": null}}, "color": {"field": "s", "type": "nominal", "legend": null}}}
        ]},
        {"width": 355, "height": 49, "resolve": {"axis": {"x": "independent", "y": "independent"}}, "layer": [
          {"data": {"name": "bands"}, "transform": [{"filter": "datum.p == 'R2'"}], "mark": {"type": "rect", "opacity": 0.25}, "encoding": {"y": {"field": "lo", "type": "quantitative", "axis": null}, "y2": {"field": "hi"}, "color": {"field": "s", "type": "nominal", "scale": {"domain": ["0.00316", "0.001", "0.0003"], "range": ["#ff0000", "#0000ff", "#008000"]}, "legend": null}}},
          {"data": {"name": "pts"}, "transform": [{"filter": "datum.p == 'R2'"}], "mark": {"type": "point", "opacity": 0}, "encoding": {"x": {"field": "k", "type": "quantitative", "axis": {"values": [0.18,0.22,0.24,0.26,0.28,0.32,0.34,0.36,0.38,0.42,0.44,0.46,0.48,0.52,0.54,0.56,0.58,0.62,0.64], "labels": false, "title": null, "tickSize": -3, "maxExtent": 0}}, "y": {"field": "v", "type": "quantitative", "axis": {"orient": "right", "values": [-0.7,-0.6,-0.4,-0.3,-0.2,-0.1,0.1,0.2,0.3,0.4,0.6,0.7,0.8,0.9], "labels": false, "title": null, "tickSize": -3, "maxExtent": 0}}}},
          {"data": {"name": "pts"}, "transform": [{"filter": "datum.p == 'R2'"}], "mark": {"type": "point", "opacity": 0}, "encoding": {"x": {"field": "k", "type": "quantitative", "axis": {"orient": "top", "values": [0.18,0.22,0.24,0.26,0.28,0.32,0.34,0.36,0.38,0.42,0.44,0.46,0.48,0.52,0.54,0.56,0.58,0.62,0.64], "labels": false, "title": null, "tickSize": -3, "maxExtent": 0}}, "y": {"field": "v", "type": "quantitative", "axis": {"orient": "left", "values": [-0.7,-0.6,-0.4,-0.3,-0.2,-0.1,0.1,0.2,0.3,0.4,0.6,0.7,0.8,0.9], "labels": false, "title": null, "tickSize": -3, "maxExtent": 0}}}},
          {"data": {"name": "pts"}, "transform": [{"filter": "datum.p == 'R2'"}], "mark": {"type": "errorbar", "ticks": true, "thickness": 1.5, "clip": true}, "encoding": {"x": {"field": "k", "type": "quantitative", "axis": {"orient": "top", "values": [0.2, 0.3, 0.4, 0.5, 0.6], "labels": false, "title": null, "maxExtent": 0}}, "y": {"field": "lo", "type": "quantitative", "axis": {"orient": "left", "values": [-0.5, 0, 0.5], "labels": false, "title": null, "maxExtent": 0}}, "y2": {"field": "hi"}, "color": {"field": "s", "type": "nominal", "legend": null}}},
          {"data": {"name": "pts"}, "transform": [{"filter": "datum.p == 'R2'"}], "mark": {"type": "point", "filled": true, "size": 55, "opacity": 1}, "encoding": {"x": {"field": "k", "type": "quantitative", "scale": {"domain": [0.168, 0.658], "nice": false, "zero": false}, "axis": {"values": [0.2, 0.3, 0.4, 0.5, 0.6], "labels": false, "title": null, "maxExtent": 0}}, "y": {"field": "v", "type": "quantitative", "scale": {"domain": [-0.79, 0.96], "nice": false, "zero": false}, "axis": {"orient": "right", "values": [-0.5, 0, 0.5], "format": ".1f", "title": null}}, "color": {"field": "s", "type": "nominal", "legend": null}}}
        ]},
        {"width": 355, "height": 49, "resolve": {"axis": {"x": "independent", "y": "independent"}}, "layer": [
          {"data": {"name": "bands"}, "transform": [{"filter": "datum.p == 'R3'"}], "mark": {"type": "rect", "opacity": 0.25}, "encoding": {"y": {"field": "lo", "type": "quantitative", "axis": null}, "y2": {"field": "hi"}, "color": {"field": "s", "type": "nominal", "scale": {"domain": ["0.00316", "0.001", "0.0003"], "range": ["#ff0000", "#0000ff", "#008000"]}, "legend": null}}},
          {"data": {"name": "pts"}, "transform": [{"filter": "datum.p == 'R3'"}], "mark": {"type": "point", "opacity": 0}, "encoding": {"x": {"field": "k", "type": "quantitative", "axis": {"values": [0.18,0.22,0.24,0.26,0.28,0.32,0.34,0.36,0.38,0.42,0.44,0.46,0.48,0.52,0.54,0.56,0.58,0.62,0.64], "labels": false, "title": null, "tickSize": -3, "maxExtent": 0}}, "y": {"field": "v", "type": "quantitative", "axis": {"orient": "right", "values": [-2,-1.5,-1,-0.5,0.5,1,1.5], "labels": false, "title": null, "tickSize": -3, "maxExtent": 0}}}},
          {"data": {"name": "pts"}, "transform": [{"filter": "datum.p == 'R3'"}], "mark": {"type": "point", "opacity": 0}, "encoding": {"x": {"field": "k", "type": "quantitative", "axis": {"orient": "top", "values": [0.18,0.22,0.24,0.26,0.28,0.32,0.34,0.36,0.38,0.42,0.44,0.46,0.48,0.52,0.54,0.56,0.58,0.62,0.64], "labels": false, "title": null, "tickSize": -3, "maxExtent": 0}}, "y": {"field": "v", "type": "quantitative", "axis": {"orient": "left", "values": [-2,-1.5,-1,-0.5,0.5,1,1.5], "labels": false, "title": null, "tickSize": -3, "maxExtent": 0}}}},
          {"data": {"name": "pts"}, "transform": [{"filter": "datum.p == 'R3'"}], "mark": {"type": "errorbar", "ticks": true, "thickness": 1.5, "clip": true}, "encoding": {"x": {"field": "k", "type": "quantitative", "axis": {"orient": "top", "values": [0.2, 0.3, 0.4, 0.5, 0.6], "labels": false, "title": null, "maxExtent": 0}}, "y": {"field": "lo", "type": "quantitative", "axis": {"orient": "left", "values": [0, 2], "labels": false, "title": null, "maxExtent": 0}}, "y2": {"field": "hi"}, "color": {"field": "s", "type": "nominal", "legend": null}}},
          {"data": {"name": "pts"}, "transform": [{"filter": "datum.p == 'R3'"}], "mark": {"type": "point", "filled": true, "size": 55, "opacity": 1}, "encoding": {"x": {"field": "k", "type": "quantitative", "scale": {"domain": [0.168, 0.658], "nice": false, "zero": false}, "axis": {"values": [0.2, 0.3, 0.4, 0.5, 0.6], "labels": false, "title": null, "maxExtent": 0}}, "y": {"field": "v", "type": "quantitative", "scale": {"domain": [-2.05, 2.18], "nice": false, "zero": false}, "axis": {"orient": "right", "values": [0, 2], "format": "d", "title": null}}, "color": {"field": "s", "type": "nominal", "legend": null}}}
        ]},
        {"width": 355, "height": 49, "resolve": {"axis": {"x": "independent", "y": "independent"}}, "layer": [
          {"data": {"name": "bands"}, "transform": [{"filter": "datum.p == 'R4'"}], "mark": {"type": "rect", "opacity": 0.25}, "encoding": {"y": {"field": "lo", "type": "quantitative", "axis": null}, "y2": {"field": "hi"}, "color": {"field": "s", "type": "nominal", "scale": {"domain": ["0.00316", "0.001", "0.0003"], "range": ["#ff0000", "#0000ff", "#008000"]}, "legend": null}}},
          {"data": {"name": "pts"}, "transform": [{"filter": "datum.p == 'R4'"}], "mark": {"type": "point", "opacity": 0}, "encoding": {"x": {"field": "k", "type": "quantitative", "axis": {"values": [0.18,0.22,0.24,0.26,0.28,0.32,0.34,0.36,0.38,0.42,0.44,0.46,0.48,0.52,0.54,0.56,0.58,0.62,0.64], "labels": false, "title": null, "tickSize": -3, "maxExtent": 0}}, "y": {"field": "v", "type": "quantitative", "axis": {"orient": "right", "values": [-7,-6,-4,-3,-2,-1,1,2,3,4,6,7,8], "labels": false, "title": null, "tickSize": -3, "maxExtent": 0}}}},
          {"data": {"name": "pts"}, "transform": [{"filter": "datum.p == 'R4'"}], "mark": {"type": "point", "opacity": 0}, "encoding": {"x": {"field": "k", "type": "quantitative", "axis": {"orient": "top", "values": [0.18,0.22,0.24,0.26,0.28,0.32,0.34,0.36,0.38,0.42,0.44,0.46,0.48,0.52,0.54,0.56,0.58,0.62,0.64], "labels": false, "title": null, "tickSize": -3, "maxExtent": 0}}, "y": {"field": "v", "type": "quantitative", "axis": {"orient": "left", "values": [-7,-6,-4,-3,-2,-1,1,2,3,4,6,7,8], "labels": false, "title": null, "tickSize": -3, "maxExtent": 0}}}},
          {"data": {"name": "pts"}, "transform": [{"filter": "datum.p == 'R4'"}], "mark": {"type": "errorbar", "ticks": true, "thickness": 1.5, "clip": true}, "encoding": {"x": {"field": "k", "type": "quantitative", "axis": {"orient": "top", "values": [0.2, 0.3, 0.4, 0.5, 0.6], "labels": false, "title": null, "maxExtent": 0}}, "y": {"field": "lo", "type": "quantitative", "axis": {"orient": "left", "values": [-5, 0, 5], "labels": false, "title": null, "maxExtent": 0}}, "y2": {"field": "hi"}, "color": {"field": "s", "type": "nominal", "legend": null}}},
          {"data": {"name": "pts"}, "transform": [{"filter": "datum.p == 'R4'"}], "mark": {"type": "point", "filled": true, "size": 55, "opacity": 1}, "encoding": {"x": {"field": "k", "type": "quantitative", "scale": {"domain": [0.168, 0.658], "nice": false, "zero": false}, "axis": {"values": [0.2, 0.3, 0.4, 0.5, 0.6], "labels": false, "title": null, "maxExtent": 0}}, "y": {"field": "v", "type": "quantitative", "scale": {"domain": [-7.6, 8.2], "nice": false, "zero": false}, "axis": {"orient": "right", "values": [-5, 0, 5], "format": "d", "title": null}}, "color": {"field": "s", "type": "nominal", "legend": null}}}
        ]},
        {"width": 355, "height": 49, "resolve": {"axis": {"x": "independent", "y": "independent"}}, "layer": [
          {"data": {"name": "pts"}, "transform": [{"filter": "datum.p == 'R5'"}], "mark": {"type": "point", "opacity": 0}, "encoding": {"x": {"field": "k", "type": "quantitative", "axis": {"values": [0.18,0.22,0.24,0.26,0.28,0.32,0.34,0.36,0.38,0.42,0.44,0.46,0.48,0.52,0.54,0.56,0.58,0.62,0.64], "labels": false, "title": null, "tickSize": -3, "maxExtent": 0}}, "y": {"field": "v", "type": "quantitative", "axis": {"orient": "right", "values": [0.2,0.3,0.4,0.5,0.6,0.7,0.8,0.9,2,3,4], "labels": false, "title": null, "tickSize": -3, "maxExtent": 0}}, "color": {"field": "s", "type": "nominal", "scale": {"domain": ["0.00316", "0.001", "0.0003"], "range": ["#ff0000", "#0000ff", "#008000"]}, "legend": null}}},
          {"data": {"name": "pts"}, "transform": [{"filter": "datum.p == 'R5'"}], "mark": {"type": "point", "opacity": 0}, "encoding": {"x": {"field": "k", "type": "quantitative", "axis": {"orient": "top", "values": [0.18,0.22,0.24,0.26,0.28,0.32,0.34,0.36,0.38,0.42,0.44,0.46,0.48,0.52,0.54,0.56,0.58,0.62,0.64], "labels": false, "title": null, "tickSize": -3, "maxExtent": 0}}, "y": {"field": "v", "type": "quantitative", "axis": {"orient": "left", "values": [0.2,0.3,0.4,0.5,0.6,0.7,0.8,0.9,2,3,4], "labels": false, "title": null, "tickSize": -3, "maxExtent": 0}}}},
          {"data": {"name": "pts"}, "transform": [{"filter": "datum.p == 'R5'"}], "mark": {"type": "errorbar", "ticks": true, "thickness": 1.5, "clip": true}, "encoding": {"x": {"field": "k", "type": "quantitative", "axis": {"orient": "top", "values": [0.2, 0.3, 0.4, 0.5, 0.6], "labels": false, "title": null, "maxExtent": 0}}, "y": {"field": "lo", "type": "quantitative", "axis": {"orient": "left", "values": [0.1, 1], "labels": false, "title": null, "maxExtent": 0}}, "y2": {"field": "hi"}, "color": {"field": "s", "type": "nominal", "legend": null}}},
          {"data": {"name": "pts"}, "transform": [{"filter": "datum.p == 'R5'"}], "mark": {"type": "point", "filled": true, "size": 55, "opacity": 1}, "encoding": {"x": {"field": "k", "type": "quantitative", "scale": {"domain": [0.168, 0.658], "nice": false, "zero": false}, "axis": {"values": [0.2, 0.3, 0.4, 0.5, 0.6], "labels": false, "title": null, "maxExtent": 0}}, "y": {"field": "v", "type": "quantitative", "scale": {"type": "log", "domain": [0.1, 4.5], "nice": false}, "axis": {"orient": "right", "values": [0.1, 1], "format": ".2f", "title": null}}, "color": {"field": "s", "type": "nominal", "legend": null}}}
        ]},
        {"width": 355, "height": 49, "resolve": {"axis": {"x": "independent", "y": "independent"}}, "layer": [
          {"data": {"name": "pts"}, "transform": [{"filter": "datum.p == 'R6'"}], "mark": {"type": "point", "opacity": 0}, "encoding": {"x": {"field": "k", "type": "quantitative", "axis": {"values": [0.18,0.22,0.24,0.26,0.28,0.32,0.34,0.36,0.38,0.42,0.44,0.46,0.48,0.52,0.54,0.56,0.58,0.62,0.64], "labels": false, "title": null, "tickSize": -3, "maxExtent": 0}}, "y": {"field": "v", "type": "quantitative", "axis": {"orient": "right", "values": [0.1,0.15,0.2,0.3,0.35,0.4,0.45,0.55,0.6,0.65,0.7,0.8,0.85], "labels": false, "title": null, "tickSize": -3, "maxExtent": 0}}, "color": {"field": "s", "type": "nominal", "scale": {"domain": ["0.00316", "0.001", "0.0003"], "range": ["#ff0000", "#0000ff", "#008000"]}, "legend": null}}},
          {"data": {"name": "pts"}, "transform": [{"filter": "datum.p == 'R6'"}], "mark": {"type": "point", "opacity": 0}, "encoding": {"x": {"field": "k", "type": "quantitative", "axis": {"orient": "top", "values": [0.18,0.22,0.24,0.26,0.28,0.32,0.34,0.36,0.38,0.42,0.44,0.46,0.48,0.52,0.54,0.56,0.58,0.62,0.64], "labels": false, "title": null, "tickSize": -3, "maxExtent": 0}}, "y": {"field": "v", "type": "quantitative", "axis": {"orient": "left", "values": [0.1,0.15,0.2,0.3,0.35,0.4,0.45,0.55,0.6,0.65,0.7,0.8,0.85], "labels": false, "title": null, "tickSize": -3, "maxExtent": 0}}}},
          {"data": {"name": "pts"}, "transform": [{"filter": "datum.p == 'R6'"}], "mark": {"type": "errorbar", "ticks": true, "thickness": 1.5, "clip": true}, "encoding": {"x": {"field": "k", "type": "quantitative", "axis": {"orient": "top", "values": [0.2, 0.3, 0.4, 0.5, 0.6], "labels": false, "title": null, "maxExtent": 0}}, "y": {"field": "lo", "type": "quantitative", "axis": {"orient": "left", "values": [0.25, 0.5, 0.75], "labels": false, "title": null, "maxExtent": 0}}, "y2": {"field": "hi"}, "color": {"field": "s", "type": "nominal", "legend": null}}},
          {"data": {"name": "pts"}, "transform": [{"filter": "datum.p == 'R6'"}], "mark": {"type": "point", "filled": true, "size": 55, "opacity": 1}, "encoding": {"x": {"field": "k", "type": "quantitative", "scale": {"domain": [0.168, 0.658], "nice": false, "zero": false}, "axis": {"values": [0.2, 0.3, 0.4, 0.5, 0.6], "labels": false, "title": null, "maxExtent": 0}}, "y": {"field": "v", "type": "quantitative", "scale": {"domain": [0.05, 0.886], "nice": false, "zero": false}, "axis": {"orient": "right", "values": [0.25, 0.5, 0.75], "format": ".2f", "title": null}}, "color": {"field": "s", "type": "nominal", "legend": null}}}
        ]},
        {"width": 355, "height": 49, "resolve": {"axis": {"x": "independent", "y": "independent"}}, "layer": [
          {"data": {"name": "bands"}, "transform": [{"filter": "datum.p == 'R7'"}], "mark": {"type": "rect", "opacity": 0.25}, "encoding": {"y": {"field": "lo", "type": "quantitative", "axis": null}, "y2": {"field": "hi"}, "color": {"field": "s", "type": "nominal", "scale": {"domain": ["0.00316", "0.001", "0.0003"], "range": ["#ff0000", "#0000ff", "#008000"]}, "legend": null}}},
          {"data": {"name": "pts"}, "transform": [{"filter": "datum.p == 'R7'"}], "mark": {"type": "point", "opacity": 0}, "encoding": {"x": {"field": "k", "type": "quantitative", "axis": {"values": [0.18,0.22,0.24,0.26,0.28,0.32,0.34,0.36,0.38,0.42,0.44,0.46,0.48,0.52,0.54,0.56,0.58,0.62,0.64], "labels": false, "title": null, "tickSize": -3, "maxExtent": 0}}, "y": {"field": "v", "type": "quantitative", "axis": {"orient": "right", "values": [0.4,0.6,0.8,1.2,1.4,1.6,1.8,2.2,2.4,2.6,2.8], "labels": false, "title": null, "tickSize": -3, "maxExtent": 0}}}},
          {"data": {"name": "pts"}, "transform": [{"filter": "datum.p == 'R7'"}], "mark": {"type": "point", "opacity": 0}, "encoding": {"x": {"field": "k", "type": "quantitative", "axis": {"orient": "top", "values": [0.18,0.22,0.24,0.26,0.28,0.32,0.34,0.36,0.38,0.42,0.44,0.46,0.48,0.52,0.54,0.56,0.58,0.62,0.64], "labels": false, "title": null, "tickSize": -3, "maxExtent": 0}}, "y": {"field": "v", "type": "quantitative", "axis": {"orient": "left", "values": [0.4,0.6,0.8,1.2,1.4,1.6,1.8,2.2,2.4,2.6,2.8], "labels": false, "title": null, "tickSize": -3, "maxExtent": 0}}}},
          {"data": {"name": "pts"}, "transform": [{"filter": "datum.p == 'R7'"}], "mark": {"type": "errorbar", "ticks": true, "thickness": 1.5, "clip": true}, "encoding": {"x": {"field": "k", "type": "quantitative", "axis": {"orient": "top", "values": [0.2, 0.3, 0.4, 0.5, 0.6], "labels": false, "title": null, "maxExtent": 0}}, "y": {"field": "lo", "type": "quantitative", "axis": {"orient": "left", "values": [1, 2, 3], "labels": false, "title": null, "maxExtent": 0}}, "y2": {"field": "hi"}, "color": {"field": "s", "type": "nominal", "legend": null}}},
          {"data": {"name": "pts"}, "transform": [{"filter": "datum.p == 'R7'"}], "mark": {"type": "point", "filled": true, "size": 55, "opacity": 1}, "encoding": {"x": {"field": "k", "type": "quantitative", "scale": {"domain": [0.168, 0.658], "nice": false, "zero": false}, "axis": {"values": [0.2, 0.3, 0.4, 0.5, 0.6], "format": ".1f", "title": "kₘₐₓ[h/Mpc]", "titleFontStyle": "normal", "labelFontSize": 16, "labelPadding": 8}}, "y": {"field": "v", "type": "quantitative", "scale": {"domain": [0.3, 3.1], "nice": false, "zero": false}, "axis": {"orient": "right", "values": [1, 2, 3], "format": "d", "title": null}}, "color": {"field": "s", "type": "nominal", "legend": null}}}
        ]}
      ]
    }
  ]
}
